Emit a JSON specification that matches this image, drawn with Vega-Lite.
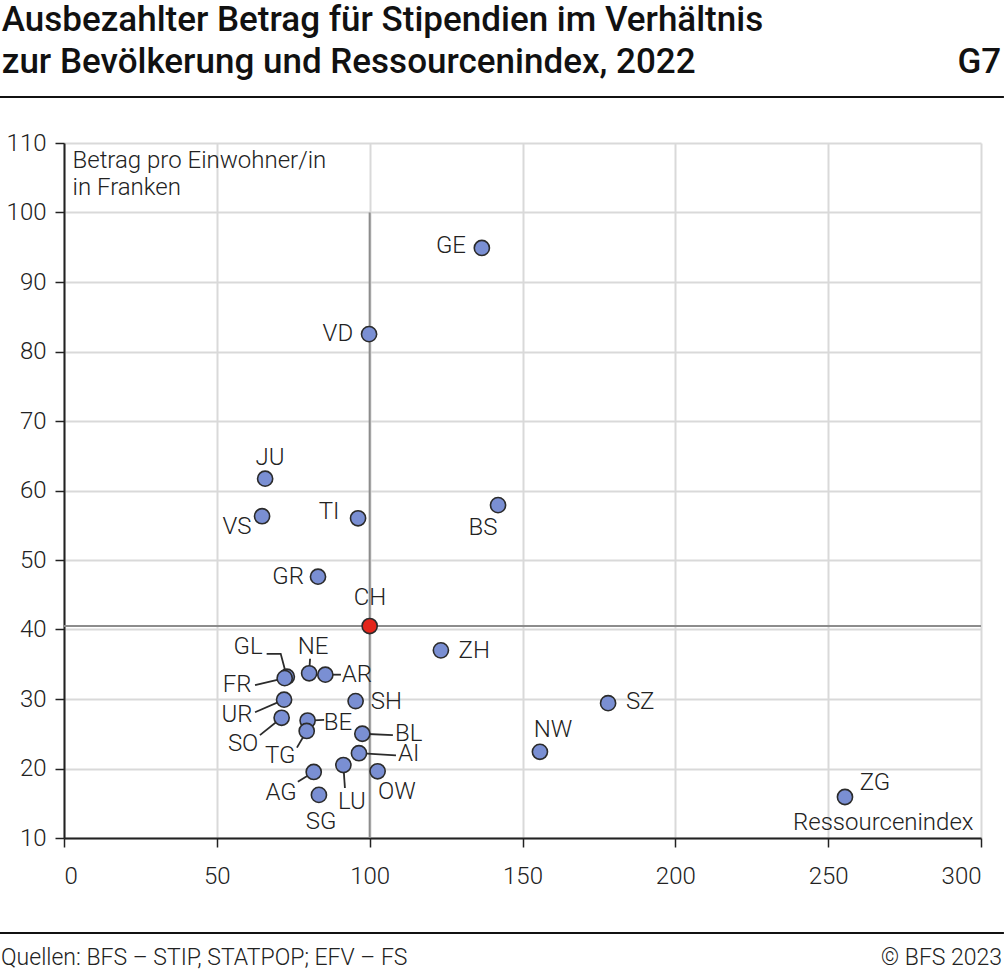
{
  "$schema": "https://vega.github.io/schema/vega-lite/v6.json",
  "width": 917,
  "height": 695,
  "autosize": "none",
  "padding": {"left": 64, "top": 143, "right": 23, "bottom": 138},
  "background": "white",
  "datasets": {
    "leer": [{}],
    "kantone": [
      {"kanton": "GE", "ressourcenindex": 136.7, "betrag": 94.9},
      {"kanton": "VD", "ressourcenindex": 99.8, "betrag": 82.5},
      {"kanton": "JU", "ressourcenindex": 65.8, "betrag": 61.7},
      {"kanton": "VS", "ressourcenindex": 64.8, "betrag": 56.3},
      {"kanton": "TI", "ressourcenindex": 96.2, "betrag": 56.0},
      {"kanton": "BS", "ressourcenindex": 142.0, "betrag": 57.9},
      {"kanton": "GR", "ressourcenindex": 83.1, "betrag": 47.6},
      {"kanton": "ZH", "ressourcenindex": 123.3, "betrag": 37.0},
      {"kanton": "SZ", "ressourcenindex": 178.0, "betrag": 29.4},
      {"kanton": "NW", "ressourcenindex": 155.7, "betrag": 22.4},
      {"kanton": "ZG", "ressourcenindex": 255.5, "betrag": 15.9},
      {"kanton": "GL", "ressourcenindex": 72.9, "betrag": 33.2},
      {"kanton": "FR", "ressourcenindex": 72.2, "betrag": 33.0},
      {"kanton": "NE", "ressourcenindex": 80.2, "betrag": 33.7},
      {"kanton": "AR", "ressourcenindex": 85.5, "betrag": 33.5},
      {"kanton": "UR", "ressourcenindex": 72.0, "betrag": 29.9},
      {"kanton": "SO", "ressourcenindex": 71.2, "betrag": 27.3},
      {"kanton": "BE", "ressourcenindex": 79.7, "betrag": 26.9},
      {"kanton": "TG", "ressourcenindex": 79.4, "betrag": 25.4},
      {"kanton": "SH", "ressourcenindex": 95.4, "betrag": 29.7},
      {"kanton": "BL", "ressourcenindex": 97.6, "betrag": 25.0},
      {"kanton": "AI", "ressourcenindex": 96.5, "betrag": 22.2},
      {"kanton": "OW", "ressourcenindex": 102.6, "betrag": 19.6},
      {"kanton": "LU", "ressourcenindex": 91.4, "betrag": 20.5},
      {"kanton": "AG", "ressourcenindex": 81.7, "betrag": 19.5},
      {"kanton": "SG", "ressourcenindex": 83.4, "betrag": 16.2},
      {"kanton": "CH", "ressourcenindex": 100.0, "betrag": 40.5}
    ],
    "beschriftung": [
      {"kanton": "GE", "lx": 126.6, "ly": 95.2},
      {"kanton": "VD", "lx": 89.6, "ly": 82.5},
      {"kanton": "JU", "lx": 67.4, "ly": 64.7},
      {"kanton": "VS", "lx": 56.6, "ly": 54.7},
      {"kanton": "TI", "lx": 86.7, "ly": 56.9},
      {"kanton": "BS", "lx": 137.1, "ly": 54.6},
      {"kanton": "GR", "lx": 73.3, "ly": 47.6},
      {"kanton": "CH", "lx": 100.1, "ly": 44.5},
      {"kanton": "ZH", "lx": 134.2, "ly": 36.9},
      {"kanton": "SZ", "lx": 188.5, "ly": 29.6},
      {"kanton": "NW", "lx": 160.0, "ly": 25.5},
      {"kanton": "ZG", "lx": 265.3, "ly": 17.9},
      {"kanton": "GL", "lx": 60.2, "ly": 37.5},
      {"kanton": "FR", "lx": 56.6, "ly": 32.0},
      {"kanton": "NE", "lx": 81.5, "ly": 37.5},
      {"kanton": "AR", "lx": 95.8, "ly": 33.5},
      {"kanton": "UR", "lx": 56.6, "ly": 27.7},
      {"kanton": "SO", "lx": 58.6, "ly": 23.5},
      {"kanton": "BE", "lx": 89.6, "ly": 26.5},
      {"kanton": "TG", "lx": 70.7, "ly": 21.8},
      {"kanton": "SH", "lx": 105.5, "ly": 29.6},
      {"kanton": "BL", "lx": 112.8, "ly": 25.0},
      {"kanton": "AI", "lx": 112.8, "ly": 22.1},
      {"kanton": "OW", "lx": 108.9, "ly": 16.6},
      {"kanton": "LU", "lx": 94.2, "ly": 15.2},
      {"kanton": "AG", "lx": 71.0, "ly": 16.5},
      {"kanton": "SG", "lx": 84.1, "ly": 12.3}
    ],
    "leitlinien": [
      {"kanton": "GL", "punkt": 1, "lx": 66.3, "ly": 36.5},
      {"kanton": "GL", "punkt": 2, "lx": 70.9, "ly": 36.5},
      {"kanton": "GL", "punkt": 3, "lx": 72.9, "ly": 33.2},
      {"kanton": "FR", "punkt": 1, "lx": 62.5, "ly": 32.0},
      {"kanton": "FR", "punkt": 2, "lx": 72.2, "ly": 33.0},
      {"kanton": "NE", "punkt": 1, "lx": 80.5, "ly": 35.8},
      {"kanton": "NE", "punkt": 2, "lx": 80.2, "ly": 33.7},
      {"kanton": "AR", "punkt": 1, "lx": 90.6, "ly": 33.5},
      {"kanton": "AR", "punkt": 2, "lx": 85.5, "ly": 33.5},
      {"kanton": "UR", "punkt": 1, "lx": 62.5, "ly": 28.1},
      {"kanton": "UR", "punkt": 2, "lx": 72.0, "ly": 29.9},
      {"kanton": "SO", "punkt": 1, "lx": 64.1, "ly": 24.8},
      {"kanton": "SO", "punkt": 2, "lx": 71.2, "ly": 27.3},
      {"kanton": "BE", "punkt": 1, "lx": 85.1, "ly": 27.0},
      {"kanton": "BE", "punkt": 2, "lx": 79.7, "ly": 26.9},
      {"kanton": "TG", "punkt": 1, "lx": 76.2, "ly": 23.0},
      {"kanton": "TG", "punkt": 2, "lx": 79.4, "ly": 25.4},
      {"kanton": "BL", "punkt": 1, "lx": 107.6, "ly": 24.8},
      {"kanton": "BL", "punkt": 2, "lx": 97.6, "ly": 25.0},
      {"kanton": "AI", "punkt": 1, "lx": 108.6, "ly": 21.9},
      {"kanton": "AI", "punkt": 2, "lx": 96.5, "ly": 22.2},
      {"kanton": "LU", "punkt": 1, "lx": 91.9, "ly": 17.2},
      {"kanton": "LU", "punkt": 2, "lx": 91.4, "ly": 20.5},
      {"kanton": "AG", "punkt": 1, "lx": 76.5, "ly": 18.1},
      {"kanton": "AG", "punkt": 2, "lx": 81.7, "ly": 19.5}
    ]
  },
  "layer": [
    {
      "data": {"name": "kantone"},
      "mark": {"type": "circle", "size": 0, "opacity": 0},
      "encoding": {
        "x": {
          "field": "ressourcenindex",
          "type": "quantitative",
          "scale": {"domain": [0, 300], "nice": false, "zero": false},
          "axis": {
            "values": [0, 50, 100, 150, 200, 250, 300],
            "title": "Ressourcenindex",
            "titleX": 909,
            "titleY": -9,
            "titleAlign": "right",
            "titleBaseline": "alphabetic",
            "titleFontSize": 24,
            "titleFontWeight": 300,
            "titleColor": "#222"
          }
        },
        "y": {
          "field": "betrag",
          "type": "quantitative",
          "scale": {"domain": [10, 110], "nice": false, "zero": false},
          "axis": {
            "values": [10, 20, 30, 40, 50, 60, 70, 80, 90, 100, 110],
            "title": ["Betrag pro Einwohner/in", "in Franken"],
            "titleAngle": 0,
            "titleX": 8,
            "titleY": 5,
            "titleAlign": "left",
            "titleBaseline": "top",
            "titleLineHeight": 27,
            "titleFontSize": 24,
            "titleFontWeight": 300,
            "titleColor": "#222"
          }
        }
      }
    },
    {
      "data": {"name": "leer"},
      "mark": {"type": "rule", "color": "#8c8c8c", "strokeWidth": 2},
      "encoding": {
        "x": {"datum": 100},
        "y": {"datum": 10},
        "y2": {"datum": 100}
      }
    },
    {
      "data": {"name": "leer"},
      "mark": {"type": "rule", "color": "#8c8c8c", "strokeWidth": 2},
      "encoding": {
        "y": {"datum": 40.5},
        "x": {"datum": 0},
        "x2": {"datum": 300}
      }
    },
    {
      "data": {"name": "leitlinien"},
      "mark": {"type": "line", "color": "#2b2b2b", "strokeWidth": 1.8},
      "encoding": {
        "x": {"field": "lx", "type": "quantitative"},
        "y": {"field": "ly", "type": "quantitative"},
        "detail": {"field": "kanton"},
        "order": {"field": "punkt"}
      }
    },
    {
      "data": {"name": "kantone"},
      "mark": {"type": "circle", "size": 230, "opacity": 1, "stroke": "#2b2b2b", "strokeWidth": 1.6},
      "encoding": {
        "x": {"field": "ressourcenindex", "type": "quantitative"},
        "y": {"field": "betrag", "type": "quantitative"},
        "color": {
          "condition": {"test": "datum.kanton === 'CH'", "value": "#e3261b"},
          "value": "#7a8fd3"
        }
      }
    },
    {
      "data": {"name": "beschriftung"},
      "mark": {"type": "text", "align": "center", "baseline": "middle", "fontSize": 24, "fontWeight": 300, "color": "#222"},
      "encoding": {
        "x": {"field": "lx", "type": "quantitative"},
        "y": {"field": "ly", "type": "quantitative"},
        "text": {"field": "kanton"}
      }
    },
    {
      "data": {"name": "leer"},
      "mark": {"type": "text", "align": "left", "baseline": "alphabetic", "fontSize": 35, "fontWeight": 500, "color": "#111", "clip": false},
      "encoding": {
        "x": {"datum": -20.35},
        "y": {"datum": 126.1},
        "text": {"value": "Ausbezahlter Betrag für Stipendien im Verhältnis"}
      }
    },
    {
      "data": {"name": "leer"},
      "mark": {"type": "text", "align": "left", "baseline": "alphabetic", "fontSize": 35, "fontWeight": 500, "color": "#111", "clip": false},
      "encoding": {
        "x": {"datum": -20.35},
        "y": {"datum": 120.07},
        "text": {"value": "zur Bevölkerung und Ressourcenindex, 2022"}
      }
    },
    {
      "data": {"name": "leer"},
      "mark": {"type": "text", "align": "right", "baseline": "alphabetic", "fontSize": 35, "fontWeight": 500, "color": "#111", "clip": false},
      "encoding": {
        "x": {"datum": 306.6},
        "y": {"datum": 120.07},
        "text": {"value": "G7"}
      }
    },
    {
      "data": {"name": "leer"},
      "mark": {"type": "rule", "color": "#111", "strokeWidth": 2, "clip": false},
      "encoding": {
        "x": {"datum": -20.94},
        "x2": {"datum": 307.5},
        "y": {"datum": 116.62}
      }
    },
    {
      "data": {"name": "leer"},
      "mark": {"type": "rule", "color": "#111", "strokeWidth": 2, "clip": false},
      "encoding": {
        "x": {"datum": -20.94},
        "x2": {"datum": 307.5},
        "y": {"datum": -3.67}
      }
    },
    {
      "data": {"name": "leer"},
      "mark": {"type": "text", "align": "left", "baseline": "alphabetic", "fontSize": 23, "fontWeight": 300, "color": "#222", "clip": false},
      "encoding": {
        "x": {"datum": -20.6},
        "y": {"datum": -8.27},
        "text": {"value": "Quellen: BFS – STIP, STATPOP; EFV – FS"}
      }
    },
    {
      "data": {"name": "leer"},
      "mark": {"type": "text", "align": "right", "baseline": "alphabetic", "fontSize": 23, "fontWeight": 300, "color": "#222", "clip": false},
      "encoding": {
        "x": {"datum": 306.9},
        "y": {"datum": -8.27},
        "text": {"value": "© BFS 2023"}
      }
    }
  ],
  "config": {
    "font": "Roboto",
    "view": {"stroke": null},
    "axis": {
      "domainColor": "#222",
      "domainWidth": 2,
      "tickColor": "#222",
      "tickWidth": 1.5,
      "tickSize": 9,
      "gridColor": "#d9d9d9",
      "gridWidth": 2,
      "labelFont": "Roboto",
      "labelFontSize": 24,
      "labelFontWeight": 300,
      "labelColor": "#222",
      "titleFont": "Roboto"
    },
    "axisX": {"labelPadding": 17},
    "axisY": {"labelPadding": 9}
  }
}
